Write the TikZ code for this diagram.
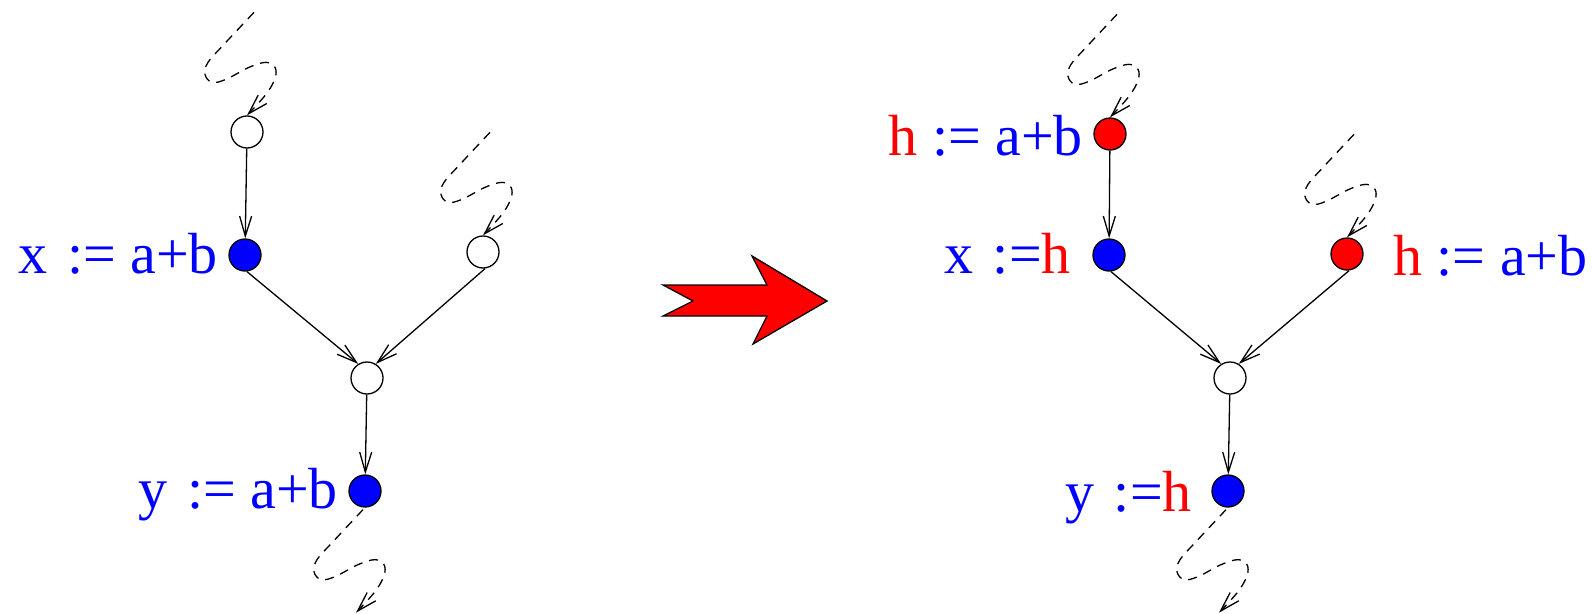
\documentclass[tikz,border=0pt]{standalone}
\usepackage{fontspec}
\setmainfont{Liberation Serif}
\usetikzlibrary{arrows.meta,calc}
\definecolor{pblue}{RGB}{0,0,255}
\definecolor{pred}{RGB}{255,0,0}
\tikzset{
  vert/.style={circle,draw=black,line width=1.3pt,minimum size=32pt,inner sep=0pt},
  wvert/.style={vert,fill=white},
  bvert/.style={vert,fill=pblue},
  rvert/.style={vert,fill=pred},
  edge/.style={line width=1.3pt,-{Straight Barb[length=20pt,width=12pt,line width=1.3pt]}},
  curlstyle/.style={line width=1.3pt,dash pattern=on 9pt off 7pt,-{Straight Barb[length=20pt,width=12pt,line width=1.3pt]}},
  lbl/.style={font=\fontsize{58}{62}\selectfont,inner sep=0pt,text=pblue},
  bigarrow/.style={fill=pred,draw=black,line width=1.3pt,line join=miter}
}
\newcommand\mycurl[1]{%
  \begin{scope}[shift={#1}]
  \draw[curlstyle] plot[smooth,tension=0.6] coordinates {(0,0) (-30,32) (-46,50) (-49,62) (-42,70) (-28,67) (-5,55) (12,50) (21,55) (21,66) (12,82) (-7,103)};
  \end{scope}}
\begin{document}
\begin{tikzpicture}[x=1pt,y=-1pt]
\useasboundingbox (0,0) rectangle (1592,613);
% left graph
\node[wvert] (A) at (247,132) {};
\node[bvert] (X) at (245,255) {};
\node[wvert] (R) at (483,252) {};
\node[wvert] (M) at (367,378) {};
\node[bvert] (Y) at (365,491) {};
\draw[edge] (A) -- (X);
\draw[edge] ([xshift=2pt]X.south) -- (M.122);
\draw[edge] ([xshift=2pt]R.south) -- (M.58);
\draw[edge] (M) -- (Y);
\mycurl{($(A.north)+(7,-103)$)}
\mycurl{($(R.north)+(7,-103)$)}
\mycurl{($(Y.south)+(-2,2)$)}
\node[lbl,anchor=base east] (lx) at (218,273) {x\kern5pt{} := a+b};
\node[lbl,anchor=base east] (ly) at (338,508) {y\kern5pt{} := a+b};
% big arrow
\draw[bigarrow] (663,285) coordinate (ba1) -- (693,301) -- (663,316) -- (767,316) -- (753,344) -- (827,301) -- (752,256) -- (767,285) -- cycle;
% right graph
\node[rvert] (H) at (1110,134) {};
\node[bvert] (X2) at (1109,255) {};
\node[rvert] (R2) at (1347,254) {};
\node[wvert] (M2) at (1230,378) {};
\node[bvert] (Y2) at (1228,491) {};
\draw[edge] (H) -- (X2);
\draw[edge] ([xshift=2pt]X2.south) -- (M2.122);
\draw[edge] ([xshift=2pt]R2.south) -- (M2.58);
\draw[edge] (M2) -- (Y2);
\mycurl{($(H.north)+(7,-103)$)}
\mycurl{($(R2.north)+(7,-103)$)}
\mycurl{($(Y2.south)+(-2,2)$)}
\node[lbl,anchor=base east] (lh) at (1083,155) {\textcolor{pred}{h} := a+b};
\node[lbl,anchor=base east] (lx2) at (1071,273) {x\kern5pt{} :=\textcolor{pred}{h}};
\node[lbl,anchor=base west] (lh2) at (1393,275) {\textcolor{pred}{h} := a+b};
\node[lbl,anchor=base east] (ly2) at (1192,511) {y\kern5pt{} :=\textcolor{pred}{h}};
\end{tikzpicture}
\end{document}
